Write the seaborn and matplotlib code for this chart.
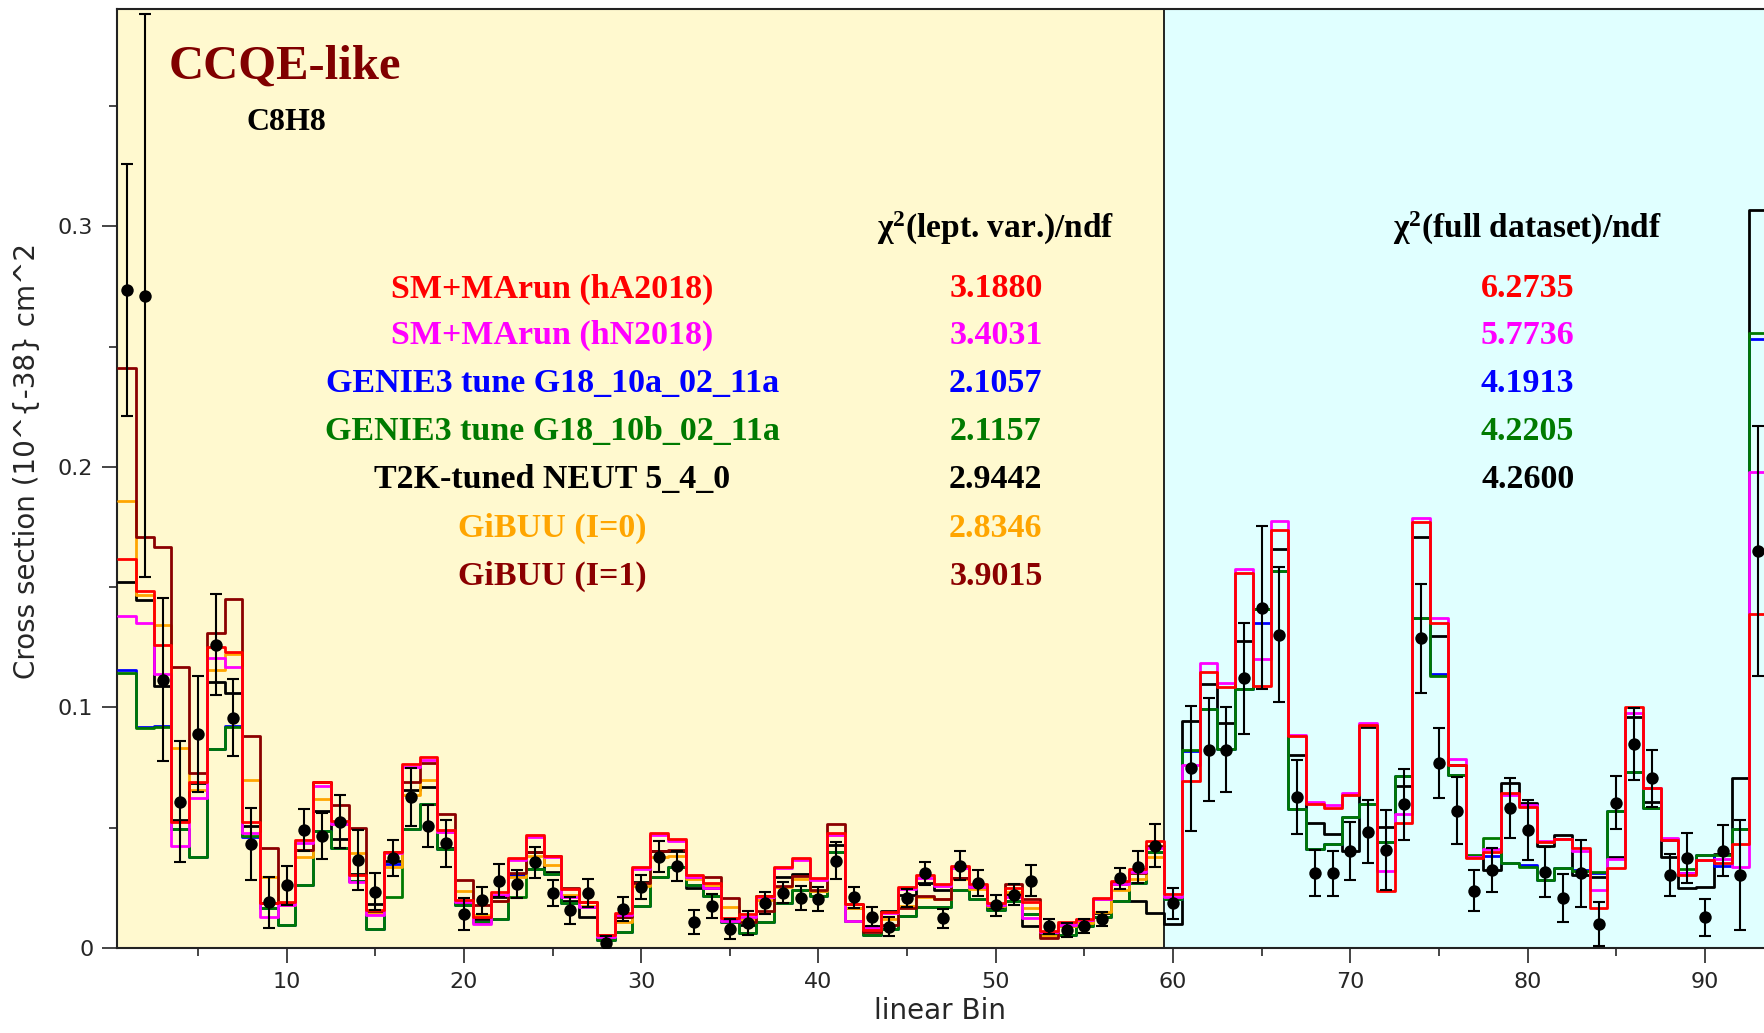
import numpy as np
import pandas as pd
import matplotlib
matplotlib.use("Agg")
import matplotlib.pyplot as plt
import seaborn as sns

# ---- data (bins 1..93) ----
bins = np.arange(1, 94)

sm_ha2018 = [
    0.1616, 0.1484, 0.1260, 0.0524, 0.0691, 0.1250, 0.1230, 0.0524, 0.0188, 0.0190,
    0.0450, 0.0690, 0.0528, 0.0302, 0.0160, 0.0400, 0.0763, 0.0792, 0.0490, 0.0199,
    0.0128, 0.0234, 0.0373, 0.0470, 0.0383, 0.0244, 0.0193, 0.0054, 0.0144, 0.0335,
    0.0477, 0.0452, 0.0304, 0.0269, 0.0123, 0.0141, 0.0216, 0.0338, 0.0373, 0.0290,
    0.0480, 0.0183, 0.0075, 0.0151, 0.0254, 0.0302, 0.0266, 0.0340, 0.0264, 0.0187,
    0.0250, 0.0190, 0.0070, 0.0108, 0.0121, 0.0207, 0.0278, 0.0327, 0.0446, 0.0225,
    0.0693, 0.1148, 0.1086, 0.1559, 0.1090, 0.1737, 0.0881, 0.0597, 0.0582, 0.0636,
    0.0928, 0.0237, 0.0520, 0.1771, 0.1350, 0.0761, 0.0373, 0.0398, 0.0646, 0.0588,
    0.0442, 0.0452, 0.0414, 0.0165, 0.0331, 0.1001, 0.0664, 0.0449, 0.0304, 0.0366,
    0.0352, 0.0431, 0.1388]

sm_hn2018 = [
    0.1382, 0.1350, 0.1140, 0.0426, 0.0623, 0.1204, 0.1169, 0.0479, 0.0127, 0.0180,
    0.0436, 0.0674, 0.0514, 0.0273, 0.0139, 0.0394, 0.0751, 0.0782, 0.0484, 0.0193,
    0.0100, 0.0220, 0.0366, 0.0463, 0.0378, 0.0210, 0.0172, 0.0045, 0.0137, 0.0327,
    0.0470, 0.0446, 0.0297, 0.0248, 0.0114, 0.0130, 0.0211, 0.0331, 0.0366, 0.0283,
    0.0470, 0.0113, 0.0083, 0.0145, 0.0245, 0.0293, 0.0258, 0.0333, 0.0255, 0.0180,
    0.0210, 0.0123, 0.0065, 0.0095, 0.0115, 0.0203, 0.0268, 0.0317, 0.0414, 0.0210,
    0.0760, 0.1183, 0.1101, 0.1577, 0.1202, 0.1776, 0.0887, 0.0605, 0.0593, 0.0644,
    0.0935, 0.0321, 0.0558, 0.1787, 0.1373, 0.0787, 0.0380, 0.0410, 0.0636, 0.0596,
    0.0446, 0.0452, 0.0405, 0.0241, 0.0369, 0.0976, 0.0664, 0.0459, 0.0313, 0.0366,
    0.0370, 0.0338, 0.1978]

g18_10a = [
    0.1156, 0.0920, 0.0925, 0.0493, 0.0380, 0.0826, 0.0925, 0.0462, 0.0167, 0.0096,
    0.0263, 0.0486, 0.0415, 0.0280, 0.0079, 0.0350, 0.0493, 0.0597, 0.0410, 0.0179,
    0.0110, 0.0119, 0.0300, 0.0327, 0.0308, 0.0186, 0.0170, 0.0033, 0.0068, 0.0175,
    0.0297, 0.0335, 0.0260, 0.0216, 0.0110, 0.0064, 0.0110, 0.0188, 0.0240, 0.0216,
    0.0398, 0.0112, 0.0052, 0.0078, 0.0133, 0.0172, 0.0169, 0.0240, 0.0204, 0.0158,
    0.0197, 0.0141, 0.0055, 0.0056, 0.0090, 0.0130, 0.0197, 0.0270, 0.0397, 0.0205,
    0.0819, 0.0993, 0.0827, 0.1078, 0.1353, 0.1567, 0.0577, 0.0411, 0.0431, 0.0543,
    0.0597, 0.0442, 0.0714, 0.1373, 0.1140, 0.0719, 0.0383, 0.0383, 0.0355, 0.0345,
    0.0283, 0.0331, 0.0324, 0.0310, 0.0570, 0.0733, 0.0581, 0.0450, 0.0310, 0.0387,
    0.0342, 0.0493, 0.2534]

g18_10b = [
    0.1144, 0.0915, 0.0920, 0.0496, 0.0380, 0.0826, 0.0920, 0.0465, 0.0167, 0.0096,
    0.0263, 0.0486, 0.0415, 0.0280, 0.0079, 0.0213, 0.0493, 0.0597, 0.0410, 0.0179,
    0.0110, 0.0119, 0.0213, 0.0327, 0.0308, 0.0186, 0.0170, 0.0033, 0.0068, 0.0175,
    0.0297, 0.0335, 0.0260, 0.0216, 0.0110, 0.0064, 0.0110, 0.0188, 0.0241, 0.0216,
    0.0398, 0.0112, 0.0052, 0.0078, 0.0133, 0.0172, 0.0169, 0.0241, 0.0204, 0.0158,
    0.0197, 0.0141, 0.0055, 0.0056, 0.0090, 0.0130, 0.0197, 0.0270, 0.0397, 0.0205,
    0.0825, 0.0993, 0.0827, 0.1078, 0.1411, 0.1567, 0.0577, 0.0411, 0.0431, 0.0543,
    0.0597, 0.0442, 0.0714, 0.1373, 0.1131, 0.0719, 0.0387, 0.0456, 0.0355, 0.0338,
    0.0283, 0.0331, 0.0320, 0.0317, 0.0570, 0.0733, 0.0581, 0.0452, 0.0327, 0.0387,
    0.0387, 0.0493, 0.2557]

neut = [
    0.1523, 0.1445, 0.1090, 0.0533, 0.0684, 0.1105, 0.1060, 0.0507, 0.0185, 0.0188,
    0.0408, 0.0571, 0.0453, 0.0309, 0.0181, 0.0362, 0.0657, 0.0668, 0.0414, 0.0188,
    0.0120, 0.0210, 0.0304, 0.0400, 0.0317, 0.0197, 0.0130, 0.0045, 0.0130, 0.0276,
    0.0403, 0.0405, 0.0248, 0.0248, 0.0115, 0.0096, 0.0218, 0.0297, 0.0308, 0.0235,
    0.0428, 0.0165, 0.0090, 0.0154, 0.0222, 0.0270, 0.0241, 0.0290, 0.0252, 0.0172,
    0.0225, 0.0090, 0.0060, 0.0090, 0.0105, 0.0145, 0.0265, 0.0195, 0.0144, 0.0101,
    0.0943, 0.1098, 0.0935, 0.1275, 0.1410, 0.1660, 0.0803, 0.0520, 0.0473, 0.0403,
    0.0920, 0.0504, 0.0675, 0.1709, 0.1297, 0.0760, 0.0380, 0.0324, 0.0685, 0.0604,
    0.0424, 0.0470, 0.0304, 0.0297, 0.0380, 0.0959, 0.0608, 0.0380, 0.0248, 0.0255,
    0.0390, 0.0705, 0.3067]

# GiBUU only covers the lepton-variable part (bins 1..59)
gibuu_i0 = [
    0.1860, 0.1466, 0.1343, 0.0833, 0.0656, 0.1154, 0.1222, 0.0698, 0.0297, 0.0178,
    0.0380, 0.0620, 0.0514, 0.0394, 0.0145, 0.0338, 0.0636, 0.0699, 0.0484, 0.0238,
    0.0137, 0.0197, 0.0294, 0.0382, 0.0345, 0.0220, 0.0175, 0.0050, 0.0110, 0.0258,
    0.0380, 0.0383, 0.0286, 0.0262, 0.0169, 0.0120, 0.0200, 0.0255, 0.0286, 0.0235,
    0.0470, 0.0165, 0.0080, 0.0120, 0.0175, 0.0213, 0.0202, 0.0286, 0.0245, 0.0175,
    0.0234, 0.0165, 0.0050, 0.0090, 0.0105, 0.0150, 0.0240, 0.0285, 0.0380]

gibuu_i1 = [
    0.2413, 0.1710, 0.1666, 0.1169, 0.0727, 0.1310, 0.1450, 0.0882, 0.0415, 0.0188,
    0.0408, 0.0691, 0.0595, 0.0500, 0.0153, 0.0400, 0.0692, 0.0770, 0.0557, 0.0283,
    0.0179, 0.0197, 0.0313, 0.0400, 0.0383, 0.0248, 0.0193, 0.0054, 0.0130, 0.0269,
    0.0403, 0.0407, 0.0297, 0.0297, 0.0207, 0.0110, 0.0155, 0.0258, 0.0300, 0.0241,
    0.0516, 0.0183, 0.0068, 0.0096, 0.0165, 0.0216, 0.0202, 0.0290, 0.0255, 0.0180,
    0.0266, 0.0202, 0.0042, 0.0096, 0.0115, 0.0205, 0.0270, 0.0310, 0.0425]

data_val = [
    0.2736, 0.2712, 0.1116, 0.0609, 0.0889, 0.1260, 0.0958, 0.0434, 0.0190, 0.0260,
    0.0490, 0.0466, 0.0525, 0.0366, 0.0234, 0.0373, 0.0629, 0.0507, 0.0436, 0.0142,
    0.0198, 0.0280, 0.0266, 0.0356, 0.0230, 0.0156, 0.0230, 0.0020, 0.0161, 0.0252,
    0.0380, 0.0341, 0.0110, 0.0175, 0.0078, 0.0105, 0.0188, 0.0230, 0.0207, 0.0202,
    0.0363, 0.0210, 0.0130, 0.0088, 0.0207, 0.0310, 0.0123, 0.0342, 0.0270, 0.0177,
    0.0222, 0.0280, 0.0090, 0.0075, 0.0091, 0.0120, 0.0290, 0.0338, 0.0426, 0.0185,
    0.0748, 0.0825, 0.0825, 0.1121, 0.1415, 0.1303, 0.0627, 0.0313, 0.0310, 0.0403,
    0.0484, 0.0408, 0.0597, 0.1287, 0.0768, 0.0571, 0.0238, 0.0324, 0.0581, 0.0491,
    0.0315, 0.0207, 0.0310, 0.0100, 0.0604, 0.0848, 0.0705, 0.0304, 0.0373, 0.0128,
    0.0405, 0.0304, 0.1650]

data_err = [
    0.0525, 0.1170, 0.0340, 0.0250, 0.0240, 0.0210, 0.0160, 0.0150, 0.0105, 0.0080,
    0.0086, 0.0095, 0.0110, 0.0126, 0.0078, 0.0074, 0.0120, 0.0088, 0.0098, 0.0067,
    0.0057, 0.0068, 0.0060, 0.0064, 0.0054, 0.0055, 0.0058, 0.0030, 0.0050, 0.0050,
    0.0063, 0.0063, 0.0050, 0.0050, 0.0042, 0.0050, 0.0045, 0.0045, 0.0050, 0.0050,
    0.0076, 0.0045, 0.0040, 0.0040, 0.0037, 0.0048, 0.0040, 0.0060, 0.0054, 0.0042,
    0.0045, 0.0065, 0.0030, 0.0030, 0.0030, 0.0030, 0.0043, 0.0067, 0.0090, 0.0063,
    0.0260, 0.0215, 0.0177, 0.0230, 0.0340, 0.0280, 0.0155, 0.0095, 0.0095, 0.0120,
    0.0130, 0.0166, 0.0147, 0.0227, 0.0146, 0.0140, 0.0085, 0.0092, 0.0125, 0.0125,
    0.0105, 0.0100, 0.0139, 0.0090, 0.0110, 0.0150, 0.0120, 0.0086, 0.0103, 0.0077,
    0.0107, 0.0230, 0.0520]

model_names = ["SM+MArun (hA2018)", "SM+MArun (hN2018)", "GENIE3 tune G18_10a_02_11a",
               "GENIE3 tune G18_10b_02_11a", "T2K-tuned NEUT 5_4_0", "GiBUU (I=0)", "GiBUU (I=1)"]
model_colors = ["#ff0000", "#ff00ff", "#0000ff", "#007a00", "#000000", "#ffa500", "#8b0000"]
chi2_lept = ["3.1880", "3.4031", "2.1057", "2.1157", "2.9442", "2.8346", "3.9015"]
chi2_full = ["6.2735", "5.7736", "4.1913", "4.2205", "4.2600"]

split_edge = 59.5
xlim = (0.43, 93.33)
ylim = (0.0, 0.3904)


def stair_rows(name, values):
    # step-post curve: one point per bin edge, last value repeated
    edges = np.arange(len(values) + 1) + 0.5
    y = list(values) + [values[-1]]
    return pd.DataFrame({"edge": edges, "xsec": y, "model": name})


series = [sm_ha2018, sm_hn2018, g18_10a, g18_10b, neut, gibuu_i0, gibuu_i1]
df = pd.concat([stair_rows(n, v) for n, v in zip(model_names, series)], ignore_index=True)

sns.set_style("ticks")
plt.rcParams["font.family"] = ["DejaVu Sans"]
plt.rcParams["mathtext.fontset"] = "custom"
plt.rcParams["mathtext.rm"] = "Liberation Serif:bold"
plt.rcParams["mathtext.it"] = "Liberation Serif:bold"
plt.rcParams["mathtext.bf"] = "Liberation Serif:bold"

fig = plt.figure(figsize=(17.64, 10.33), dpi=100)
ax = fig.add_axes([0.0663, 0.0823, 0.9337, 0.9090])

ax.axvspan(xlim[0], split_edge, color="#fff9cf", zorder=0, lw=0)
ax.axvspan(split_edge, xlim[1], color="#e0ffff", zorder=0, lw=0)
ax.axvline(split_edge, color="black", lw=1.2, zorder=1)

draw_order = ["T2K-tuned NEUT 5_4_0", "GENIE3 tune G18_10a_02_11a", "GENIE3 tune G18_10b_02_11a",
              "GiBUU (I=0)", "GiBUU (I=1)", "SM+MArun (hN2018)", "SM+MArun (hA2018)"]
palette = dict(zip(model_names, model_colors))
sns.lineplot(data=df, x="edge", y="xsec", hue="model", hue_order=draw_order, palette=palette,
             drawstyle="steps-post", linewidth=2.0, estimator=None, sort=False,
             legend=False, ax=ax, zorder=3)

ax.errorbar(bins, data_val, yerr=data_err, fmt="none", ecolor="black",
            elinewidth=1.5, capsize=4.5, capthick=1.5, zorder=4)
sns.scatterplot(x=bins, y=data_val, color="black", s=80, edgecolor="black",
                linewidth=0, zorder=5, ax=ax)

ax.set_xlim(*xlim)
ax.set_ylim(*ylim)

# text annotations
serif_bold = dict(family="Liberation Serif", weight="bold")
ax.text(3.36, 0.3613, "CCQE-like", color="#800000", fontsize=35, va="baseline", **serif_bold)
ax.text(7.76, 0.3400, "C8H8", color="black", fontsize=23, va="baseline", **serif_bold)

ax.text(50.0, 0.2990, "χ$^{2}$(lept. var.)/ndf", color="black", fontsize=24,
        ha="center", va="center", **serif_bold)
ax.text(80.0, 0.2990, "χ$^{2}$(full dataset)/ndf", color="black", fontsize=24,
        ha="center", va="center", **serif_bold)

row_y = [0.2740, 0.2545, 0.2345, 0.2146, 0.1946, 0.1743, 0.1543]
for i, name in enumerate(model_names):
    ax.text(25.0, row_y[i], name, color=model_colors[i], fontsize=24.5,
            ha="center", va="center", **serif_bold)
    ax.text(50.0, row_y[i], chi2_lept[i], color=model_colors[i], fontsize=24.5,
            ha="center", va="center", **serif_bold)
    if i < len(chi2_full):
        ax.text(80.0, row_y[i], chi2_full[i], color=model_colors[i], fontsize=24.5,
                ha="center", va="center", **serif_bold)

# axes styling
ax.set_xticks(np.arange(10, 100, 10))
ax.set_xticks(np.arange(5, 95, 10), minor=True)
ax.set_yticks([0, 0.1, 0.2, 0.3])
ax.set_yticklabels(["0", "0.1", "0.2", "0.3"])
ax.set_yticks([0.05, 0.15, 0.25, 0.35], minor=True)
ax.tick_params(which="major", direction="out", length=11, width=1.2, labelsize=16, pad=6)
ax.tick_params(which="minor", direction="out", length=5.5, width=1.2)
for side in ["left", "bottom", "top"]:
    ax.spines[side].set_linewidth(1.5)
    ax.spines[side].set_color("#222222")
ax.spines["right"].set_visible(False)

ax.set_xlabel("linear Bin", fontsize=20, labelpad=4)
ax.set_ylabel("Cross section (10^{-38} cm^2", fontsize=20)
ax.yaxis.set_label_coords(-0.046, 0.519)

fig.savefig("out.png", dpi=100, facecolor="white")
